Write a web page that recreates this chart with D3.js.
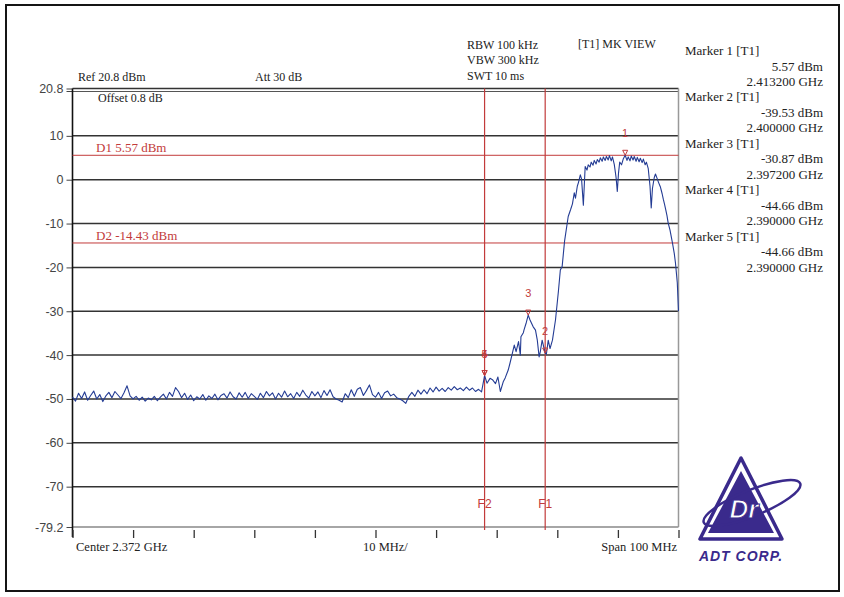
<!DOCTYPE html>
<html><head><meta charset="utf-8">
<script src="https://cdn.jsdelivr.net/npm/d3@7"></script>
<style>body{margin:0;background:#fff;} svg{display:block;}</style>
</head><body>
<svg id="c" width="844" height="597"></svg>
<script>
// ---------- DATA ----------
const yTickValues = [20.8, 10, 0, -10, -20, -30, -40, -50, -60, -70, -79.2];
const xTickMHz = [2322, 2332, 2342, 2352, 2362, 2372, 2382, 2392, 2402, 2412, 2422];
const noiseStartMHz = 2322;
const noiseStepMHz = 0.5;
const noiseDbm = [
 -49.6,-50.5,-48.7,-49.9,-48.4,-50.3,-49.2,-48.2,-50.0,-49.0,
 -50.6,-49.3,-48.5,-49.7,-48.3,-49.1,-49.9,-48.6,-47.0,-49.3,
 -50.0,-49.4,-50.3,-49.6,-50.5,-49.8,-50.2,-49.4,-50.4,-49.6,
 -48.9,-50.0,-48.5,-49.4,-47.4,-48.3,-49.7,-48.7,-50.1,-49.1,
 -50.4,-49.5,-50.0,-49.0,-50.3,-49.3,-49.9,-48.9,-50.2,-49.2,
 -48.8,-49.8,-48.4,-49.5,-50.0,-48.6,-49.6,-48.5,-49.9,-48.8,
 -49.4,-50.1,-48.7,-49.7,-48.3,-49.3,-48.6,-50.0,-48.7,-49.6,
 -48.2,-49.5,-48.8,-49.9,-48.5,-49.4,-48.0,-49.1,-49.8,-48.3,
 -49.3,-48.4,-49.7,-48.1,-49.2,-47.9,-49.5,-50.0,-50.3,-50.7,
 -48.8,-49.7,-47.9,-49.4,-47.8,-47.4,-49.2,-48.1,-46.8,-49.0,
 -49.6,-48.5,-49.9,-48.6,-48.2,-49.3,-48.9,-49.7,-50.0,-50.4,
 -51.0,-49.4,-48.5,-49.4,-48.0,-48.9,-47.9,-48.8,-47.5,-48.4,
 -47.3,-48.2,-47.6,-48.3,-47.4,-48.0,-47.2,-47.9,-47.5,-48.1,
 -47.3,-48.0,-47.5,-48.3,-47.8,-48.4
];
const signalTrace = [
 [2390.0,-44.66],[2390.4,-46.4],[2390.9,-45.3],[2391.3,-45.6],[2391.8,-46.5],
 [2392.2,-45.0],[2392.6,-48.3],[2393.1,-46.0],[2393.4,-45.2],[2393.9,-43.4],
 [2394.2,-41.8],[2394.6,-39.5],[2394.9,-37.7],[2395.2,-39.2],[2395.6,-36.9],
 [2395.9,-40.0],[2396.0,-35.8],[2396.4,-34.9],[2396.5,-34.3],[2396.9,-32.5],
 [2397.2,-30.87],[2397.5,-32.0],[2398.0,-33.5],[2398.4,-34.3],[2398.7,-36.6],
 [2399.0,-40.4],[2399.2,-39.2],[2399.5,-36.6],[2400.0,-39.53],[2400.2,-39.8],
 [2400.5,-36.6],[2400.8,-38.5],[2401.2,-36.6],[2401.7,-32.0],[2402.2,-25.2],
 [2402.5,-20.6],[2402.8,-19.8],[2403.2,-14.0],[2403.8,-8.4],[2404.2,-6.8],
 [2404.5,-5.5],[2404.8,-3.0],[2405.0,-4.2],[2405.3,-1.5],[2405.5,-0.6],
 [2405.8,1.1],[2406.0,0.2],[2406.3,-5.8],[2406.6,3.0],[2406.9,2.2],
 [2407.1,3.4],[2407.4,2.9],[2407.6,4.0],[2407.9,3.3],[2408.1,4.4],
 [2408.4,3.6],[2408.6,4.6],[2408.9,4.0],[2409.1,5.0],[2409.4,4.2],
 [2409.6,5.2],[2409.9,4.4],[2410.1,5.3],[2410.4,4.5],[2410.6,5.5],
 [2410.9,4.3],[2411.1,5.2],[2411.4,3.5],[2411.7,0.5],[2411.9,-2.7],
 [2412.1,1.5],[2412.3,4.0],[2412.6,3.4],[2412.9,4.8],[2413.2,5.57],
 [2413.5,4.4],[2413.7,5.2],[2414.0,4.3],[2414.2,5.4],[2414.5,4.5],
 [2414.7,5.3],[2415.0,4.2],[2415.2,5.1],[2415.5,4.1],[2415.7,4.9],
 [2416.0,3.9],[2416.2,4.7],[2416.5,3.4],[2416.7,4.0],[2417.0,2.6],
 [2417.3,-1.5],[2417.5,-6.45],[2417.7,-2.0],[2418.0,0.5],[2418.2,1.3],
 [2418.5,0.2],[2418.7,-0.6],[2419.0,-1.6],[2419.3,-3.2],[2419.5,-4.5],
 [2419.7,-5.6],[2419.9,-6.9],[2420.1,-8.2],[2420.3,-9.9],[2420.6,-11.5],
 [2421.0,-14.4],[2421.3,-16.8],[2421.5,-19.0],[2421.8,-23.5],[2422.0,-30.0]
];
const markerNums = [1, 2, 3, 4, 5];
const markerFreqMHz = [2413.2, 2400.0, 2397.2, 2390.0, 2390.0];
const markerDbm = [5.57, -39.53, -30.87, -44.66, -44.66];
const displayLineNames = ["D1", "D2"];
const displayLineDbm = [5.57, -14.43];
const freqLineNames = ["F1", "F2"];
const freqLineMHz = [2400, 2390];
const headerTexts = ["Ref 20.8 dBm", "Att 30 dB", "Offset 0.8 dB", "RBW 100 kHz", "VBW 300 kHz", "SWT 10 ms", "[T1] MK VIEW"];
const footerTexts = ["Center 2.372 GHz", "10 MHz/", "Span 100 MHz"];

// ---------- DRAW ----------
const svg = d3.select("#c");
const RED = "#c23b3b", BLUE = "#243c94", GRID = "#333", PURPLE = "#3a2a8c";
const SERIF = "'Liberation Serif','Times New Roman',serif";
const SANS = "'Liberation Sans',Arial,sans-serif";

const x = d3.scaleLinear().domain([2322, 2422]).range([72.5, 678.5]);
const y = d3.scaleLinear().domain([-79.2, 20.8]).range([527, 88.5]);

// outer frame
svg.append("rect").attr("x", 6).attr("y", 5).attr("width", 833).attr("height", 586)
  .attr("fill", "none").attr("stroke", "#151515").attr("stroke-width", 2);

// horizontal grid lines
const g = svg.append("g");
g.selectAll("line.grid").data(yTickValues).join("line")
  .attr("x1", x(2322)).attr("x2", x(2422))
  .attr("y1", d => y(d)).attr("y2", d => y(d))
  .attr("stroke", (d, i) => (i === yTickValues.length - 1) ? "#888" : GRID)
  .attr("stroke-width", 1.5);
g.append("line").attr("x1", x(2322)).attr("x2", x(2422))
  .attr("y1", y(20.8) + 3).attr("y2", y(20.8) + 3).attr("stroke", "#555").attr("stroke-width", 1);
g.append("line").attr("x1", x(2422)).attr("x2", x(2422))
  .attr("y1", y(20.8)).attr("y2", y(-79.2)).attr("stroke", "#999").attr("stroke-width", 1.5);

// y axis
const yAxis = d3.axisLeft(y).tickValues(yTickValues).tickSize(6).tickPadding(3)
  .tickFormat(d => String(d));
const ya = svg.append("g").attr("transform", `translate(${x(2322)},0)`).call(yAxis);
ya.select(".domain").remove();
ya.selectAll("line").attr("stroke", "#444");
ya.selectAll("text").attr("font-family", SANS).attr("font-size", 12.5).attr("fill", "#444");
ya.append("line").attr("x1", -6).attr("x2", 0).attr("y1", y(20.8) + 3).attr("y2", y(20.8) + 3).attr("stroke", "#444");
svg.append("line").attr("x1", x(2322)).attr("x2", x(2322)).attr("y1", y(20.8)).attr("y2", 537)
  .attr("stroke", "#111").attr("stroke-width", 1.6);

// x axis ticks
const xAxis = d3.axisBottom(x).tickValues(xTickMHz).tickSize(8).tickFormat("");
const xa = svg.append("g").attr("transform", `translate(0,${y(-79.2) + 3})`).call(xAxis);
xa.select(".domain").remove();
xa.selectAll("line").attr("stroke", "#333").attr("stroke-width", 1.3);

// display lines (D1, D2)
displayLineDbm.forEach((v, i) => {
  svg.append("line").attr("x1", x(2322)).attr("x2", x(2422))
    .attr("y1", y(v)).attr("y2", y(v)).attr("stroke", RED).attr("stroke-width", 1);
  svg.append("text").attr("x", 96).attr("y", y(v) - 3)
    .attr("font-family", SERIF).attr("font-size", 13).attr("fill", RED)
    .text(`${displayLineNames[i]} ${v.toFixed(2)} dBm`);
});

// frequency lines (F1, F2)
freqLineMHz.forEach((f, i) => {
  svg.append("line").attr("x1", x(f)).attr("x2", x(f))
    .attr("y1", y(20.8)).attr("y2", y(-79.2) + 3).attr("stroke", RED).attr("stroke-width", 1.2);
  svg.append("text").attr("x", x(f)).attr("y", 508).attr("text-anchor", "middle")
    .attr("font-family", SANS).attr("font-size", 12).attr("fill", RED).text(freqLineNames[i]);
});

// trace
const trace = noiseDbm.map((v, i) => [noiseStartMHz + i * noiseStepMHz, v]).concat(signalTrace);
svg.append("path").datum(trace)
  .attr("d", d3.line().x(d => x(d[0])).y(d => y(d[1])))
  .attr("fill", "none").attr("stroke", BLUE).attr("stroke-width", 1.1).attr("stroke-linejoin", "round");

// markers
markerNums.forEach((n, i) => {
  const mx = x(markerFreqMHz[i]), my = y(markerDbm[i]);
  svg.append("path").attr("d", `M${mx - 2.5},${my - 5}L${mx + 2.5},${my - 5}L${mx},${my}Z`)
    .attr("fill", "none").attr("stroke", RED).attr("stroke-width", 1);
  svg.append("text").attr("x", mx).attr("y", my - 18).attr("text-anchor", "middle")
    .attr("font-family", SANS).attr("font-size", 11).attr("fill", RED).text(n);
});

// header texts
const hdr = [[78, 81], [255, 81], [98, 102], [467, 49], [467, 64], [467, 80], [578, 48]];
headerTexts.forEach((t, i) => {
  svg.append("text").attr("x", hdr[i][0]).attr("y", hdr[i][1])
    .attr("font-family", SERIF).attr("font-size", 12).attr("fill", "#222").text(t);
});

// marker table
markerNums.forEach((n, i) => {
  const y0 = 55 + i * 46.4;
  svg.append("text").attr("x", 685).attr("y", y0).attr("font-family", SERIF).attr("font-size", 13)
    .attr("fill", "#222").text(`Marker ${n} [T1]`);
  svg.append("text").attr("x", 823).attr("y", y0 + 15.5).attr("text-anchor", "end").attr("font-family", SERIF)
    .attr("font-size", 13).attr("fill", "#222").text(`${markerDbm[i].toFixed(2)} dBm`);
  svg.append("text").attr("x", 823).attr("y", y0 + 31).attr("text-anchor", "end").attr("font-family", SERIF)
    .attr("font-size", 13).attr("fill", "#222").text(`${(markerFreqMHz[i] / 1000).toFixed(6)} GHz`);
});

// footer texts
svg.append("text").attr("x", 76).attr("y", 551).attr("font-family", SERIF).attr("font-size", 12.5).attr("fill", "#222").text(footerTexts[0]);
svg.append("text").attr("x", 363).attr("y", 551).attr("font-family", SERIF).attr("font-size", 12.5).attr("fill", "#222").text(footerTexts[1]);
svg.append("text").attr("x", 677).attr("y", 551).attr("text-anchor", "end").attr("font-family", SERIF).attr("font-size", 12.5).attr("fill", "#222").text(footerTexts[2]);

// logo
const logo = svg.append("g");
logo.append("path").attr("d", "M741,458 L700,539 L782,539 Z").attr("fill", "#fff")
  .attr("stroke", PURPLE).attr("stroke-width", 3.5).attr("stroke-linejoin", "round");
logo.append("path").attr("d", "M741,471 L708,533 L774,533 Z").attr("fill", PURPLE);
logo.append("ellipse").attr("cx", 752).attr("cy", 503).attr("rx", 52).attr("ry", 13)
  .attr("transform", "rotate(-22 752 503)").attr("fill", "none").attr("stroke", PURPLE).attr("stroke-width", 2.5);
logo.append("text").attr("x", 744).attr("y", 518).attr("text-anchor", "middle")
  .attr("font-family", SANS).attr("font-weight", "bold").attr("font-style", "italic").attr("font-size", 26)
  .attr("fill", "#fff").attr("stroke", PURPLE).attr("stroke-width", 1).text("Dr");
logo.append("text").attr("x", 741).attr("y", 561).attr("text-anchor", "middle")
  .attr("font-family", SANS).attr("font-weight", "bold").attr("font-style", "italic").attr("font-size", 14)
  .attr("fill", PURPLE).attr("letter-spacing", 1).text("ADT CORP.");
</script>
</body></html>
